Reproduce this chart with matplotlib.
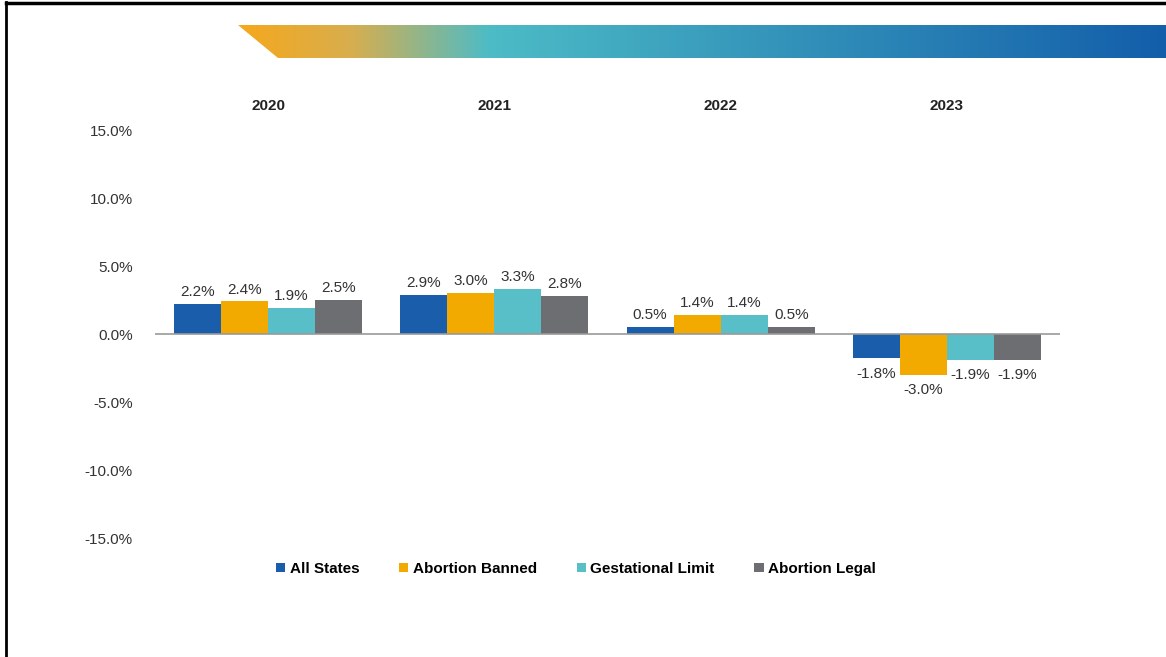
import numpy as np
import matplotlib.pyplot as plt
from matplotlib.patches import Polygon
from matplotlib.colors import LinearSegmentedColormap
from matplotlib.lines import Line2D

plt.rcParams['font.family'] = ['Liberation Sans', 'DejaVu Sans']

years = ["2020", "2021", "2022", "2023"]
series = ["All States", "Abortion Banned", "Gestational Limit", "Abortion Legal"]
all_states = [2.2, 2.9, 0.5, -1.8]
banned = [2.4, 3.0, 1.4, -3.0]
gestational = [1.9, 3.3, 1.4, -1.9]
legal = [2.5, 2.8, 0.5, -1.9]
colors = ["#1A5EAB", "#F2A900", "#58BEC8", "#6D6E71"]

values = [all_states, banned, gestational, legal]

fig = plt.figure(figsize=(11.66, 6.57), dpi=100)
W, H = 1166, 657

# banner with gradient
bg = fig.add_axes([0, 0, 1, 1], zorder=0)
bg.set_xlim(0, W)
bg.set_ylim(H, 0)
bg.axis("off")
cmap = LinearSegmentedColormap.from_list(
    "banner", [(0, "#F5A81C"), (0.12, "#D8AE4E"), (0.27, "#4DBCC6"),
               (1, "#135EAA")])
grad = np.linspace(0, 1, 512).reshape(1, -1)
im = bg.imshow(grad, cmap=cmap, extent=[238, W, 58, 25], aspect="auto")
poly = Polygon([[238, 25], [W, 25], [W, 58], [278, 58]], closed=True,
               transform=bg.transData, facecolor="none", edgecolor="none")
bg.add_patch(poly)
im.set_clip_path(poly)
# frame lines (left and top)
bg.add_line(Line2D([6, 6], [2, H], color="black", lw=2))
bg.add_line(Line2D([6, W], [3, 3], color="black", lw=2.5))

ax = fig.add_axes([155 / W, 1 - 538 / H, 905 / W, 408 / H], zorder=1)
ax.patch.set_alpha(0)

x = np.arange(len(years))
width = 0.208
for i, (name, vals) in enumerate(zip(series, values)):
    pos = x + (i - 1.5) * width
    ax.bar(pos, vals, width, color=colors[i], label=name, zorder=2)
    for p, v in zip(pos, vals):
        if v >= 0:
            ax.text(p, v + 0.35, f"{v:.1f}%", ha="center", va="bottom",
                    fontsize=11, color="#333333")
        else:
            ax.text(p, v - 0.6, f"{v:.1f}%", ha="center", va="top",
                    fontsize=11, color="#333333")

ax.set_xlim(-0.5, 3.5)
ax.set_ylim(-15, 15)
ax.axhline(0, color="#999999", lw=1.2, zorder=3)
ax.set_yticks(np.arange(-15, 16, 5))
ax.set_yticklabels([f"{t:.1f}%" for t in np.arange(-15, 16, 5)],
                   fontsize=11, color="#333333")
ax.tick_params(axis="y", length=0, pad=16)
ax.set_xticks([])
for s in ax.spines.values():
    s.set_visible(False)

for xi, yr in zip(x, years):
    ax.text(xi, 1.059, yr, transform=ax.get_xaxis_transform(), ha="center",
            va="center", fontsize=11, fontweight="bold", color="#222222")

leg = fig.legend(loc="center", bbox_to_anchor=(576 / W, 1 - 569 / H), ncol=4,
                 frameon=False, handlelength=0.6, handleheight=0.6,
                 handletextpad=0.3, columnspacing=2.6,
                 prop={"weight": "bold", "size": 11})

fig.savefig("out.png", dpi=100)
